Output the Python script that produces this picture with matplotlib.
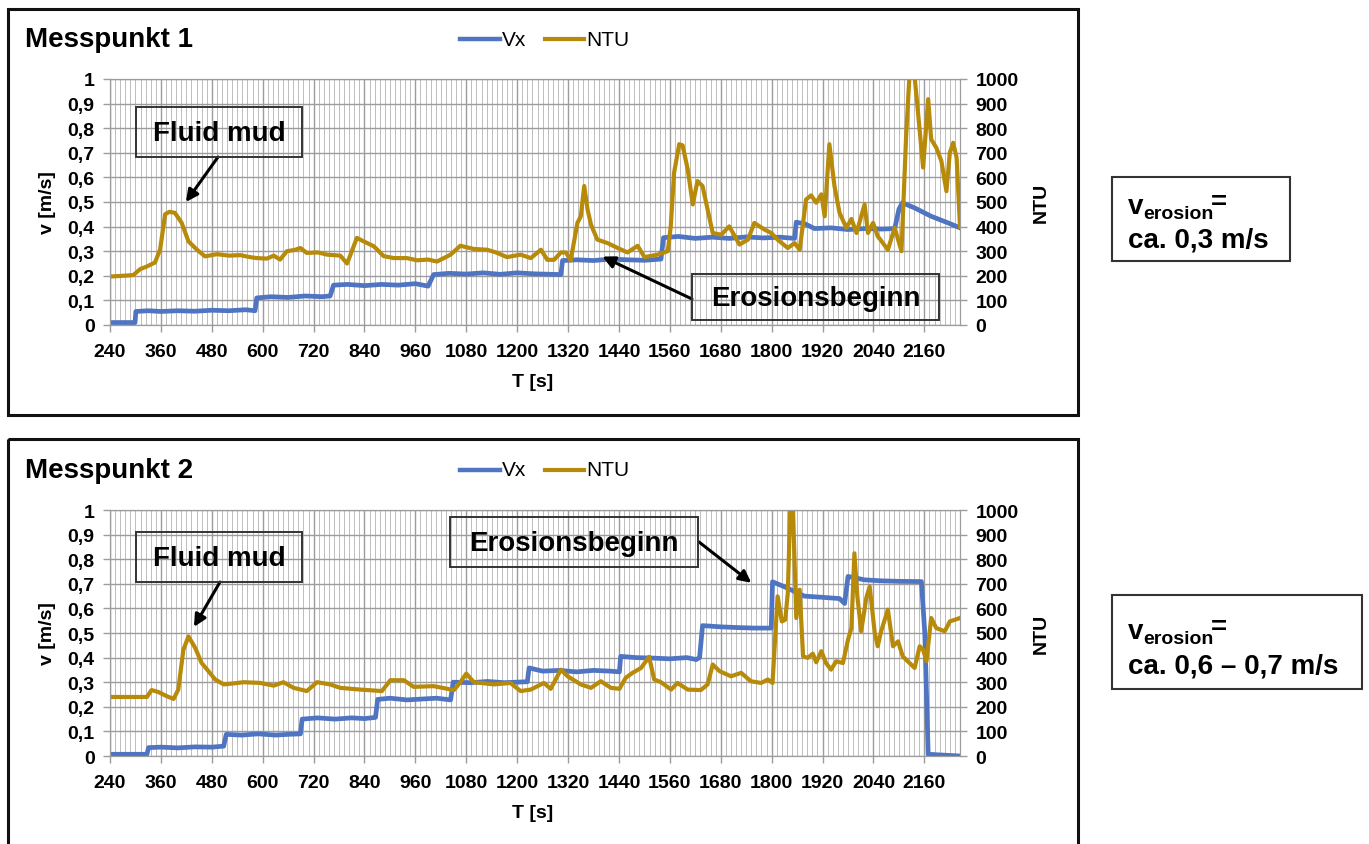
import numpy as np
import matplotlib.pyplot as plt
from matplotlib.patches import Rectangle
from matplotlib.lines import Line2D
from matplotlib.transforms import Affine2D
from matplotlib.ticker import MultipleLocator

plt.rcParams['font.family'] = ['Liberation Sans', 'DejaVu Sans']

# ---- data (T in s, v in m/s, turbidity in NTU) ----
mp1_ntu = [(240, 197), (270, 200), (295, 203), (311, 227), (327, 238), (346, 254), (358, 306),
           (370, 450), (380, 460), (393, 456), (409, 415), (425, 340), (445, 306), (464, 279),
           (492, 288), (520, 282), (547, 284), (570, 276), (586, 272), (610, 270), (626, 282),
           (641, 266), (657, 300), (675, 305), (689, 313), (704, 293), (730, 295), (752, 286),
           (783, 282), (799, 250), (822, 354), (838, 340), (862, 320), (885, 280), (909, 272),
           (940, 272), (964, 263), (990, 266), (1011, 258), (1043, 286), (1066, 322), (1098, 309),
           (1129, 306), (1150, 295), (1176, 276), (1208, 286), (1232, 272), (1256, 306), (1271, 265),
           (1287, 265), (1303, 295), (1315, 295), (1326, 262), (1342, 415), (1350, 442), (1358, 565),
           (1366, 469), (1374, 408), (1389, 347), (1413, 333), (1437, 313), (1460, 295), (1484, 322),
           (1500, 276), (1531, 286), (1555, 300), (1562, 400), (1570, 620), (1582, 735), (1590, 730),
           (1602, 633), (1614, 490), (1625, 585), (1637, 565), (1649, 469), (1661, 374), (1681, 367),
           (1700, 401), (1724, 327), (1744, 347), (1759, 415), (1783, 388), (1799, 374), (1814, 347),
           (1838, 313), (1854, 333), (1866, 306), (1881, 510), (1893, 527), (1905, 497), (1917, 531),
           (1925, 442), (1936, 735), (1948, 565), (1960, 456), (1976, 395), (1988, 431), (2000, 374),
           (2019, 490), (2027, 374), (2039, 415), (2050, 361), (2074, 306), (2090, 395), (2106, 300),
           (2117, 769), (2125, 1020), (2137, 1010), (2145, 864), (2157, 640), (2169, 918), (2176, 755),
           (2188, 721), (2200, 667), (2212, 544), (2220, 700), (2228, 741), (2236, 680), (2244, 400)]

mp1_vx = [(240, 0.010), (299, 0.010), (301, 0.055), (330, 0.058), (360, 0.055), (400, 0.058),
          (440, 0.056), (480, 0.060), (520, 0.058), (560, 0.062), (582, 0.058), (586, 0.110),
          (620, 0.115), (660, 0.112), (700, 0.118), (740, 0.115), (759, 0.118), (767, 0.162),
          (800, 0.165), (840, 0.160), (880, 0.165), (920, 0.162), (960, 0.168), (990, 0.158),
          (1003, 0.205), (1040, 0.210), (1080, 0.207), (1120, 0.212), (1160, 0.206), (1200, 0.212),
          (1240, 0.208), (1303, 0.205), (1307, 0.262), (1340, 0.265), (1380, 0.262), (1420, 0.268),
          (1460, 0.265), (1500, 0.263), (1539, 0.268), (1545, 0.355), (1580, 0.360), (1620, 0.352),
          (1660, 0.357), (1700, 0.352), (1740, 0.358), (1780, 0.354), (1820, 0.357), (1854, 0.352),
          (1858, 0.418), (1880, 0.410), (1901, 0.392), (1940, 0.395), (1980, 0.388), (2020, 0.392),
          (2060, 0.390), (2090, 0.392), (2100, 0.470), (2108, 0.497), (2137, 0.476), (2176, 0.442),
          (2216, 0.415), (2244, 0.395)]

mp2_ntu = [(240, 240), (327, 240), (338, 268), (354, 260), (374, 243), (390, 232), (401, 270),
           (413, 432), (425, 486), (441, 439), (456, 378), (472, 345), (488, 311), (508, 291),
           (531, 295), (555, 300), (594, 297), (626, 286), (649, 300), (673, 277), (704, 264),
           (728, 300), (759, 291), (783, 277), (830, 270), (881, 264), (901, 308), (933, 308),
           (956, 281), (1003, 284), (1051, 268), (1066, 300), (1080, 335), (1098, 300), (1145, 291),
           (1184, 297), (1208, 264), (1232, 270), (1263, 297), (1279, 273), (1303, 351), (1319, 324),
           (1350, 291), (1374, 277), (1397, 304), (1421, 277), (1441, 273), (1456, 318), (1472, 338),
           (1492, 358), (1511, 403), (1523, 311), (1539, 300), (1563, 270), (1578, 297), (1602, 270),
           (1633, 268), (1649, 291), (1661, 372), (1677, 345), (1704, 324), (1728, 338), (1751, 304),
           (1775, 297), (1791, 311), (1802, 297), (1814, 649), (1824, 547), (1832, 554), (1838, 662),
           (1844, 1020), (1850, 1020), (1858, 561), (1866, 676), (1874, 405), (1885, 399), (1897, 416),
           (1905, 381), (1917, 426), (1928, 378), (1940, 351), (1952, 385), (1968, 378), (1980, 473),
           (1988, 520), (1995, 824), (2002, 649), (2011, 507), (2023, 642), (2031, 689), (2043, 500),
           (2050, 446), (2058, 507), (2074, 595), (2086, 446), (2098, 466), (2109, 405), (2125, 378),
           (2137, 358), (2149, 446), (2157, 432), (2165, 385), (2176, 561), (2188, 520), (2208, 507),
           (2220, 547), (2244, 561)]

mp2_vx = [(240, 0.007), (327, 0.007), (331, 0.034), (360, 0.036), (400, 0.033), (440, 0.037),
          (480, 0.036), (508, 0.040), (514, 0.088), (550, 0.085), (590, 0.090), (630, 0.085),
          (660, 0.088), (689, 0.090), (693, 0.150), (730, 0.155), (770, 0.150), (810, 0.155),
          (840, 0.152), (866, 0.157), (871, 0.230), (900, 0.235), (940, 0.228), (980, 0.232),
          (1010, 0.235), (1043, 0.228), (1049, 0.300), (1090, 0.298), (1130, 0.303), (1170, 0.298),
          (1224, 0.302), (1228, 0.358), (1260, 0.345), (1300, 0.348), (1340, 0.342), (1380, 0.348),
          (1420, 0.345), (1441, 0.342), (1444, 0.405), (1480, 0.400), (1520, 0.398), (1560, 0.395),
          (1600, 0.400), (1622, 0.392), (1630, 0.400), (1637, 0.530), (1680, 0.525), (1720, 0.522),
          (1760, 0.520), (1799, 0.520), (1802, 0.708), (1830, 0.688), (1877, 0.650), (1920, 0.645),
          (1960, 0.640), (1972, 0.620), (1980, 0.730), (2019, 0.716), (2060, 0.712), (2100, 0.710),
          (2153, 0.709), (2161, 0.500), (2169, 0.007), (2244, 0.000)]

x_ticks = list(range(240, 2161, 120))
v_ticks = [0, 0.1, 0.2, 0.3, 0.4, 0.5, 0.6, 0.7, 0.8, 0.9, 1.0]
v_labels = ['0', '0,1', '0,2', '0,3', '0,4', '0,5', '0,6', '0,7', '0,8', '0,9', '1']
ntu_ticks = list(range(0, 1001, 100))

blue = '#4F74C2'
gold = '#B88A0A'
grid_major = '#9c9c9c'
grid_minor = '#bdbdbd'

W, H = 1369, 845
fig = plt.figure(figsize=(W / 100, H / 100), dpi=100)
px = Affine2D().scale(1 / W, -1 / H).translate(0, 1) + fig.transFigure


def pos(x0, y0, x1, y1):
    return [x0 / W, 1 - y1 / H, (x1 - x0) / W, (y1 - y0) / H]


def box(x0, y0, x1, y1, lw=1.5, color='#333333'):
    fig.add_artist(Rectangle((x0, y0), x1 - x0, y1 - y0, transform=px,
                             fill=False, lw=lw, ec=color))


def chart(top, title, ntu, vx, notes):
    bottom = top + 246
    ax = fig.add_axes(pos(110, top, 960, bottom))
    ax2 = ax.twinx()

    t, v = zip(*vx)
    ax.plot(t, v, color=blue, lw=3.4, solid_joinstyle='round')
    t, n = zip(*ntu)
    ax2.plot(t, n, color=gold, lw=3.0, solid_joinstyle='round')

    ax.set_xlim(240, 2244)
    ax.set_ylim(0, 1)
    ax2.set_ylim(0, 1000)
    ax.set_xticks(x_ticks)
    ax.xaxis.set_minor_locator(MultipleLocator(12))
    ax.set_yticks(v_ticks)
    ax.set_yticklabels(v_labels)
    ax2.set_yticks(ntu_ticks)

    ax.set_axisbelow(True)
    ax.grid(which='major', axis='both', color=grid_major, lw=1.0)
    ax.grid(which='minor', axis='x', color=grid_minor, lw=0.7)

    for a in (ax, ax2):
        for s in a.spines.values():
            s.set_color(grid_major)
        a.tick_params(which='major', length=5, width=1, color=grid_major,
                      labelsize=14, pad=6)
        a.tick_params(which='minor', length=0)
    ax.tick_params(axis='x', pad=8)
    for lab in ax.get_xticklabels() + ax.get_yticklabels() + ax2.get_yticklabels():
        lab.set_fontweight('bold')

    mid = (top + bottom) / 2
    fig.text(48 / W, 1 - mid / H, 'v [m/s]', rotation=90, ha='center', va='center',
             fontsize=14, fontweight='bold')
    fig.text(1041 / W, 1 - mid / H, 'NTU', rotation=90, ha='center', va='center',
             fontsize=14, fontweight='bold')
    fig.text(533 / W, 1 - (bottom + 57) / H, 'T [s]', ha='center', va='center',
             fontsize=14, fontweight='bold')

    # title and legend
    fig.text(25 / W, 1 - (top - 33) / H, title, ha='left', va='baseline',
             fontsize=20, fontweight='bold')
    ly = top - 40
    fig.add_artist(Line2D([460, 500], [ly, ly], transform=px, color=blue, lw=3.2))
    fig.text(502 / W, 1 - ly / H, 'Vx', ha='left', va='center', fontsize=15)
    fig.add_artist(Line2D([545, 584], [ly, ly], transform=px, color=gold, lw=3.0))
    fig.text(586 / W, 1 - ly / H, 'NTU', ha='left', va='center', fontsize=15)

    # callouts
    for label, bx, head, tail in notes:
        x0, y0, x1, y1 = bx
        box(x0, y0, x1, y1, lw=1.4)
        fig.text((x0 + x1) / 2 / W, 1 - ((y0 + y1) / 2 + 1) / H, label, ha='center',
                 va='center', fontsize=20, fontweight='bold')
        ax.annotate('', xy=head, xycoords='data', xytext=tail, textcoords=px,
                    arrowprops=dict(arrowstyle='-|>', color='black', lw=2.2,
                                    mutation_scale=18, shrinkA=0, shrinkB=0))
    return ax


# outer frames
box(8, 10, 1078, 416, lw=2.2, color='#111111')
box(8, 440, 1078, 860, lw=2.2, color='#111111')

chart(80, 'Messpunkt 1', mp1_ntu, mp1_vx,
      [('Fluid mud', (136, 108, 302, 158), (419, 0.50), (218, 158)),
       ('Erosionsbeginn', (692, 275, 939, 321), (1401, 0.278), (692, 300))])
chart(511, 'Messpunkt 2', mp2_ntu, mp2_vx,
      [('Fluid mud', (136, 533, 302, 583), (438, 0.525), (220, 583)),
       ('Erosionsbeginn', (450, 518, 698, 568), (1752, 0.704), (699, 543))])

# side boxes with the erosion velocity
box(1112, 178, 1290, 262)
fig.text(1128 / W, 1 - 214 / H, 'v', fontsize=20, fontweight='bold', va='baseline')
fig.text(1143 / W, 1 - 219 / H, 'erosion', fontsize=14, fontweight='bold', va='baseline')
fig.text(1211 / W, 1 - 210 / H, '=', fontsize=20, fontweight='bold', va='baseline')
fig.text(1128 / W, 1 - 248 / H, 'ca. 0,3 m/s', fontsize=20, fontweight='bold', va='baseline')

box(1112, 596, 1362, 690)
fig.text(1128 / W, 1 - 639 / H, 'v', fontsize=20, fontweight='bold', va='baseline')
fig.text(1143 / W, 1 - 644 / H, 'erosion', fontsize=14, fontweight='bold', va='baseline')
fig.text(1211 / W, 1 - 635 / H, '=', fontsize=20, fontweight='bold', va='baseline')
fig.text(1128 / W, 1 - 673 / H, 'ca. 0,6 \u2013 0,7 m/s', fontsize=20, fontweight='bold',
         va='baseline')

fig.savefig('out.png', dpi=100)
